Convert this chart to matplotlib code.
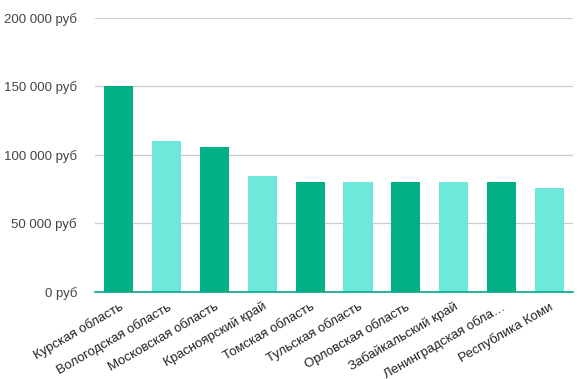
import matplotlib
matplotlib.use("Agg")
import matplotlib.pyplot as plt
from matplotlib.ticker import FuncFormatter

regions = [
    "Курская область",
    "Вологодская область",
    "Московская область",
    "Красноярский край",
    "Томская область",
    "Тульская область",
    "Орловская область",
    "Забайкальский край",
    "Ленинградская обла…",
    "Республика Коми",
]
salaries = [150000, 110000, 106000, 85000, 80000, 80000, 80000, 80000, 80000, 76000]
yticks = [0, 50000, 100000, 150000, 200000]

dark = "#00b086"
light = "#6ee8da"
colors = [dark if i % 2 == 0 else light for i in range(len(regions))]

plt.rcParams["font.family"] = ["Liberation Sans", "DejaVu Sans"]

fig = plt.figure(figsize=(5.86, 3.79), dpi=100)
ax = fig.add_axes([0.162, 0.2296, 0.816, 0.7229])

x = list(range(len(regions)))
ax.bar(x, salaries, width=0.61, color=colors, zorder=3)

ax.set_xlim(-0.5, len(regions) - 0.5)
ax.set_ylim(0, 200000)
ax.set_yticks(yticks)
ax.yaxis.set_major_formatter(
    FuncFormatter(lambda v, _: f"{int(v):,}".replace(",", " ") + " руб"))
ax.grid(axis="y", color="#cccccc", lw=0.9, zorder=0)
ax.tick_params(axis="y", length=0, pad=13, labelsize=9.5, labelcolor="#444444")

ax.set_xticks(x)
ax.set_xticklabels(regions, rotation=30, ha="right", rotation_mode="anchor",
                   fontsize=9.5, color="#222222")
ax.tick_params(axis="x", length=0, pad=6)

for s in ["top", "right", "left"]:
    ax.spines[s].set_visible(False)
ax.spines["bottom"].set_color("#00a884")
ax.spines["bottom"].set_linewidth(1.2)
ax.spines["bottom"].set_zorder(4)

fig.savefig("out.png", dpi=100, facecolor="white")
